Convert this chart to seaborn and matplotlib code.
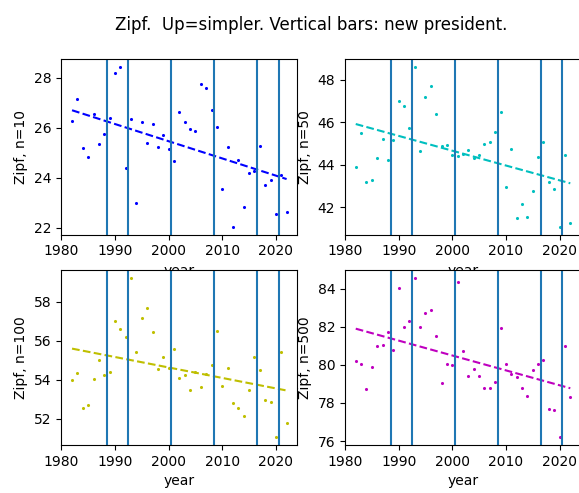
import pandas as pd
from matplotlib import pyplot as plt
import seaborn as sns

years = [1982, 1983, 1984, 1985, 1986, 1987, 1988, 1989, 1990, 1991,
         1992, 1993, 1994, 1995, 1996, 1997, 1998, 1999, 2000, 2001,
         2002, 2003, 2004, 2005, 2006, 2007, 2008, 2009, 2010, 2011,
         2012, 2013, 2014, 2015, 2016, 2017, 2018, 2019, 2020, 2021, 2022]

zipf_10 = [26.26, 27.14, 25.21, 24.84, 26.57, 25.36, 25.77, 26.38, 28.20, 28.42,
           24.38, 26.34, 23.00, 26.22, 25.40, 26.17, 25.23, 25.72, 25.16, 24.67,
           26.62, 26.22, 25.97, 25.89, 27.75, 27.60, 26.71, 26.05, 23.54, 25.24,
           22.05, 24.72, 22.85, 24.21, 24.27, 25.29, 23.73, 23.93, 22.56, 24.13, 22.64]

zipf_50 = [43.91, 45.51, 43.18, 43.29, 44.31, 45.23, 44.21, 45.17, 47.00, 46.79,
           45.74, 48.59, 44.64, 47.19, 47.69, 46.38, 44.89, 44.95, 44.45, 44.42,
           44.52, 44.69, 44.31, 44.47, 44.97, 45.06, 45.56, 46.49, 42.95, 44.73,
           41.48, 42.15, 41.53, 42.76, 44.39, 45.05, 43.21, 42.84, 41.09, 44.45, 41.27]

zipf_100 = [54.01, 54.32, 52.57, 52.72, 54.03, 55.03, 54.26, 54.42, 57.02, 56.59,
            56.17, 59.24, 55.40, 57.17, 57.68, 56.46, 54.57, 55.18, 54.59, 55.59,
            54.10, 54.23, 53.48, 54.42, 53.65, 54.28, 54.74, 56.52, 53.69, 54.59,
            52.80, 52.55, 52.16, 53.48, 55.16, 54.52, 52.94, 52.86, 51.06, 55.40, 51.77]

zipf_500 = [80.21, 80.05, 78.73, 79.88, 80.97, 81.06, 81.70, 80.75, 84.05, 81.97,
            82.31, 84.57, 81.98, 82.71, 82.87, 81.51, 79.06, 80.03, 79.97, 84.33,
            80.71, 79.43, 79.76, 79.43, 78.78, 78.78, 79.11, 81.95, 80.03, 79.50,
            79.36, 78.77, 78.38, 79.70, 80.05, 80.23, 77.67, 77.65, 76.21, 81.01, 78.33]

new_president = [1988.5, 1992.5, 2000.5, 2008.5, 2016.5, 2020.5]

df = pd.DataFrame({"year": years, "n=10": zipf_10, "n=50": zipf_50,
                   "n=100": zipf_100, "n=500": zipf_500})

panels = [("n=10", "b"), ("n=50", "c"), ("n=100", "y"), ("n=500", "m")]

fig, axes = plt.subplots(2, 2, figsize=(5.79, 4.93), dpi=100)
fig.subplots_adjust(left=0.1059, right=1.0035, top=0.8797, bottom=0.0974,
                    wspace=0.202, hspace=0.2)
fig.suptitle("Zipf.  Up=simpler. Vertical bars: new president.", x=0.537, y=0.967)

for ax, (col, color) in zip(axes.flat, panels):
    sns.regplot(data=df, x="year", y=col, ax=ax, ci=None, color=color,
                scatter_kws={"s": 5, "alpha": 1, "linewidths": 0},
                line_kws={"lw": 1.5, "ls": "--"})
    for yr in new_president:
        ax.axvline(yr)
    ax.set_xlabel("year")
    ax.set_ylabel("Zipf, " + col)

plt.savefig("out.png")
